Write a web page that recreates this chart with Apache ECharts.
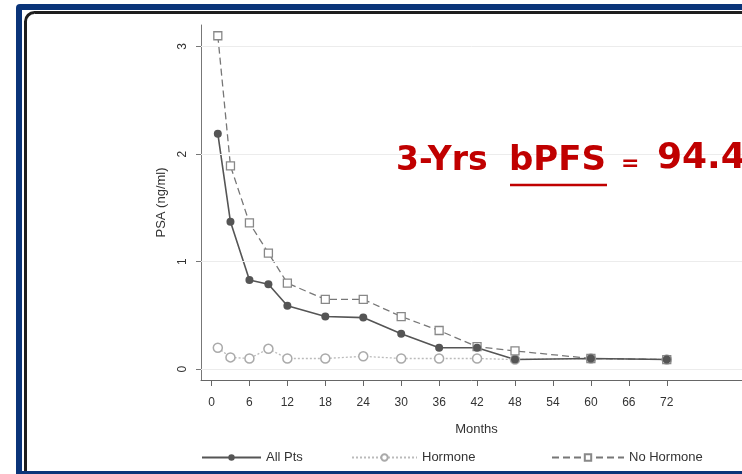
<!DOCTYPE html>
<html>
<head>
<meta charset="utf-8">
<script src="https://cdn.jsdelivr.net/npm/echarts@6/dist/echarts.min.js"></script>
<style>
  html, body { margin: 0; padding: 0; background: #fff; }
  #chart { width: 742px; height: 474px; }
</style>
</head>
<body>
<div id="chart"></div>
<script>
// PSA follow-up
const months = [1, 3, 6, 9, 12, 18, 24, 30, 36, 42, 48, 60, 72];
const allPts = [2.19, 1.37, 0.83, 0.79, 0.59, 0.49, 0.48, 0.33, 0.20, 0.20, 0.09, 0.10, 0.09];
const hormone = [0.20, 0.11, 0.10, 0.19, 0.10, 0.10, 0.12, 0.10, 0.10, 0.10, 0.09, 0.10, 0.09];
const noHormone = [3.10, 1.89, 1.36, 1.08, 0.80, 0.65, 0.65, 0.49, 0.36, 0.21, 0.17, 0.10, 0.09];
const monthTicks = [0, 6, 12, 18, 24, 30, 36, 42, 48, 54, 60, 66, 72];
const psaTicks = [0, 1, 2, 3];
const seriesNames = ['All Pts', 'Hormone', 'No Hormone'];

const pair = (ys) => months.map((m, i) => [m, ys[i]]);

const chart = echarts.init(document.getElementById('chart'));
const red = '#c00000';
const navy = '#0a3479';
const font = 'Liberation Sans';
const shadow = { shadowColor: 'rgba(0,0,0,0.35)', shadowBlur: 2, shadowOffsetX: 2, shadowOffsetY: 2 };

const legendBase = {
  top: 451,
  padding: 0,
  itemHeight: 8,
  textStyle: { fontSize: 13, color: '#333', fontFamily: font }
};

const option = {
  animation: false,
  grid: { left: 201, top: 25, right: 0, height: 355 },
  xAxis: {
    type: 'value',
    min: -1.66,
    max: 83.9,
    name: 'Months',
    nameLocation: 'middle',
    nameGap: 43,
    nameTextStyle: { fontSize: 13, color: '#333', fontFamily: font, padding: [0, 0, 0, 10] },
    axisLine: { onZero: false, lineStyle: { color: '#666' } },
    axisTick: { customValues: monthTicks, length: 6, lineStyle: { color: '#666' } },
    axisLabel: { customValues: monthTicks, margin: 17, fontSize: 12, color: '#333', fontFamily: font },
    splitLine: { show: false }
  },
  yAxis: {
    type: 'value',
    min: -0.1,
    max: 3.2,
    name: 'PSA (ng/ml)',
    nameLocation: 'middle',
    nameGap: 33,
    nameTextStyle: { fontSize: 13, color: '#333', fontFamily: font },
    axisLine: { show: true, onZero: false, lineStyle: { color: '#777' } },
    axisTick: { show: true, customValues: psaTicks, length: 5, lineStyle: { color: '#777' } },
    axisLabel: { customValues: psaTicks, rotate: 90, margin: 12, fontSize: 12, color: '#333', fontFamily: font },
    splitLine: { show: false }
  },
  legend: [
    Object.assign({ data: [seriesNames[0]], left: 201, itemWidth: 59 }, legendBase),
    Object.assign({ data: [seriesNames[1]], left: 351, itemWidth: 65 }, legendBase),
    Object.assign({ data: [seriesNames[2]], left: 551, itemWidth: 72 }, legendBase)
  ],
  series: [
    {
      name: seriesNames[1],
      type: 'line',
      data: pair(hormone),
      symbol: 'circle',
      symbolSize: 9,
      itemStyle: { color: '#fff', borderColor: '#aaa', borderWidth: 1.5 },
      lineStyle: { color: '#bbb', width: 1.3, type: [2, 2] },
      markLine: {
        silent: true,
        symbol: 'none',
        label: { show: false },
        lineStyle: { color: '#ececec', width: 1, type: 'solid' },
        data: psaTicks.map(v => ({ yAxis: v }))
      }
    },
    {
      name: seriesNames[2],
      type: 'line',
      data: pair(noHormone),
      symbol: 'rect',
      symbolSize: 8,
      itemStyle: { color: '#fff', borderColor: '#888', borderWidth: 1.3 },
      lineStyle: { color: '#777', width: 1.3, type: [7, 4] }
    },
    {
      name: seriesNames[0],
      type: 'line',
      data: pair(allPts),
      symbol: 'circle',
      symbolSize: 8,
      itemStyle: { color: '#555' },
      lineStyle: { color: '#555', width: 1.6 }
    }
  ],
  graphic: [
    { type: 'rect', z: -5, shape: { x: 16, y: 4, width: 760, height: 480, r: 4 }, style: { fill: navy } },
    { type: 'rect', z: -4, shape: { x: 22, y: 10, width: 760, height: 461 }, style: { fill: '#fff' } },
    { type: 'rect', z: -3, shape: { x: 25.5, y: 12.5, width: 760, height: 520, r: 9 },
      style: { fill: '#fff', stroke: '#1e1e1e', lineWidth: 3 } },
    { type: 'rect', z: -2, shape: { x: 16, y: 471, width: 760, height: 10 }, style: { fill: navy } },
    { type: 'text', z: 10, style: Object.assign({
        text: '3-Yrs', x: 396, y: 161, verticalAlign: 'middle',
        font: 'bold 33px "DejaVu Sans"', fill: red }, shadow) },
    { type: 'text', z: 10, style: Object.assign({
        text: 'bPFS', x: 509, y: 161, verticalAlign: 'middle',
        font: 'bold 34px "DejaVu Sans"', fill: red }, shadow) },
    { type: 'line', z: 10, shape: { x1: 510, y1: 185, x2: 607, y2: 185 },
      style: { stroke: red, lineWidth: 2.5 } },
    { type: 'text', z: 10, style: Object.assign({
        text: '=', x: 621, y: 164, verticalAlign: 'middle',
        font: 'bold 22px "DejaVu Sans"', fill: red }, shadow) },
    { type: 'text', z: 10, style: Object.assign({
        text: '94.4', x: 657, y: 159, verticalAlign: 'middle',
        font: 'bold 36px "DejaVu Sans"', fill: red }, shadow) }
  ]
};

chart.setOption(option);
</script>
</body>
</html>
